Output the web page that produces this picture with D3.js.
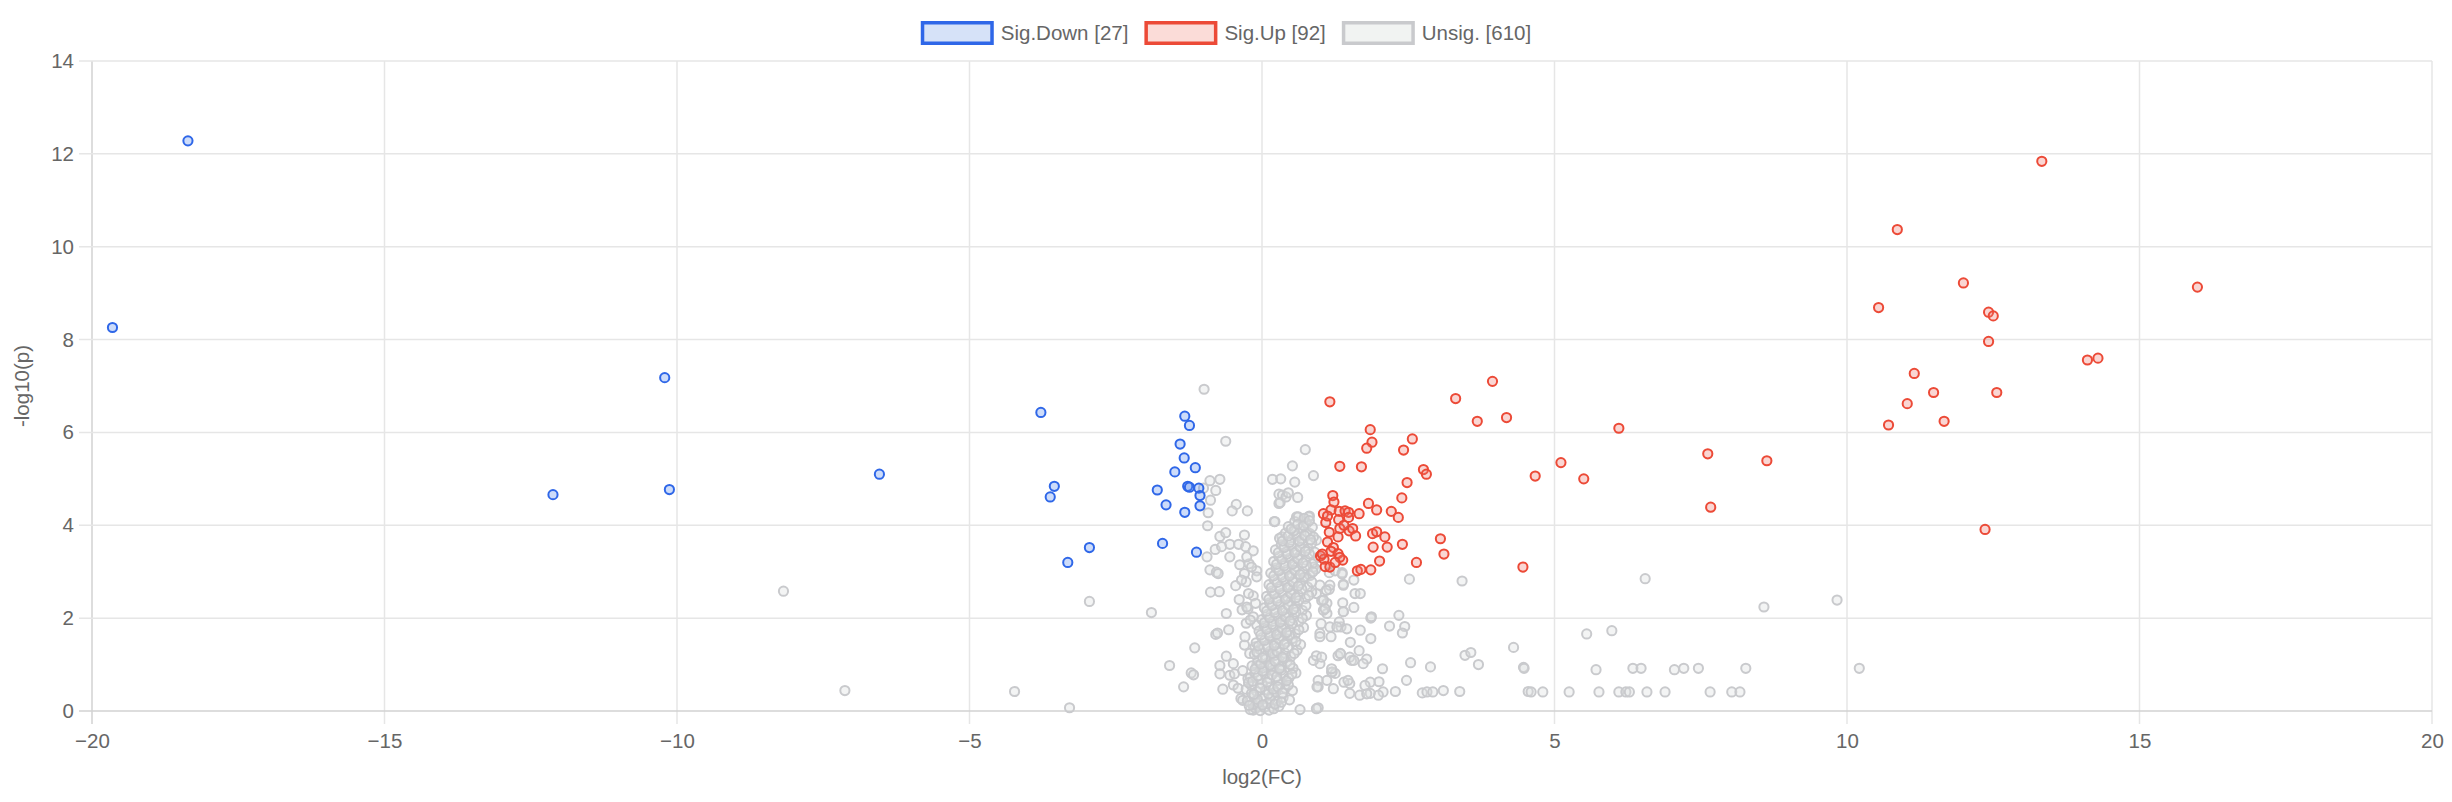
<!DOCTYPE html>
<html>
<head>
<meta charset="utf-8">
<script src="https://cdn.jsdelivr.net/npm/d3@7"></script>
<style>
  body { margin: 0; background: #fff; }
  svg text { font-family: "Liberation Sans", Arial, sans-serif; fill: #666; }
</style>
</head>
<body>
<svg id="chart" width="2452" height="802"></svg>
<script>
// tick values + legend
const xTicks = [-20, -15, -10, -5, 0, 5, 10, 15, 20];
const yTicks = [0, 2, 4, 6, 8, 10, 12, 14];
const legendLabels = ["Sig.Down [27]", "Sig.Up [92]", "Unsig. [610]"];

// [log2FC, -log10p]
const sigDown = [
  [-19.65,8.26],[-18.36,12.28],[-10.21,7.18],[-12.12,4.66],[-10.13,4.77],[-6.54,5.10],
  [-3.78,6.43],[-1.32,6.35],[-1.24,6.15],[-1.40,5.75],[-1.33,5.45],[-1.49,5.15],[-1.14,5.24],
  [-3.55,4.84],[-3.62,4.61],[-1.79,4.76],[-1.27,4.84],[-1.24,4.82],[-1.08,4.80],[-1.06,4.64],
  [-1.06,4.42],[-1.64,4.44],[-1.32,4.28],[-2.95,3.52],[-1.70,3.61],[-1.12,3.42],[-3.32,3.20]
];

const sigUp = [
  [1.16,6.66],[3.94,7.10],[3.31,6.73],[3.68,6.24],[4.18,6.32],[1.85,6.06],[1.88,5.79],[1.79,5.66],
  [2.57,5.86],[2.42,5.62],[1.33,5.27],[1.70,5.26],[2.76,5.20],[2.81,5.10],[2.48,4.92],[2.39,4.59],
  [1.21,4.64],[1.23,4.50],[1.82,4.47],[1.96,4.33],[2.21,4.30],[2.33,4.17],[1.66,4.25],[1.05,4.25],
  [1.18,4.33],[1.32,4.30],[1.42,4.31],[1.48,4.28],[1.48,4.17],[1.31,4.12],[1.09,4.06],[1.12,4.20],
  [1.33,3.93],[1.49,3.88],[1.55,3.93],[1.60,3.77],[1.30,3.75],[1.89,3.82],[1.96,3.86],[2.10,3.75],
  [2.14,3.53],[1.90,3.53],[2.40,3.59],[1.12,3.64],[1.22,3.52],[1.18,3.44],[1.30,3.39],[1.38,3.25],
  [1.33,3.31],[1.00,3.34],[1.06,3.27],[1.08,3.11],[1.16,3.10],[2.01,3.23],[1.63,3.02],[1.69,3.05],
  [1.86,3.04],[2.64,3.20],[3.05,3.71],[3.11,3.38],[4.46,3.10],[1.03,3.38],[1.25,3.20],[1.40,4.00],
  [1.15,3.85],
  [4.67,5.06],[5.11,5.35],[5.50,5.00],[6.10,6.09],[7.62,5.54],[7.67,4.39],[8.63,5.39],
  [10.71,6.16],[11.03,6.62],[11.15,7.27],
  [13.33,11.84],[11.99,9.22],[15.99,9.13],[12.42,8.59],[12.50,8.51],[12.42,7.96],[14.11,7.56],
  [14.29,7.60],[11.48,6.86],[12.56,6.86],[11.66,6.24],[12.36,3.91],[10.54,8.69],[10.86,10.37]
];

const unsigSpread = [
  [-8.18,2.58],[-7.13,0.44],[-4.23,0.42],[-3.29,0.07],[-2.95,2.36],[-1.89,2.12],[-1.15,1.36],
  [-1.58,0.98],[-1.21,0.82],[-1.17,0.78],[-1.34,0.52],
  [-0.99,6.93],[-0.62,5.81],[0.18,4.99],[-0.89,4.96],[-0.72,4.99],[-0.79,4.75],[-1.0,4.8],
  [-0.88,4.54],[-0.44,4.45],[-0.51,4.31],[-0.25,4.31],[-0.92,4.27],[-0.93,3.99],[0.21,4.08],
  [0.29,4.47],[0.29,4.67],[-0.72,3.76],[-0.62,3.84],[-0.30,3.79],[-0.80,3.48],[-0.69,3.54],
  [-0.55,3.59],[-0.40,3.59],[-0.28,3.54],[-0.15,3.45],[-0.94,3.32],[-0.55,3.32],[-0.38,3.15],
  [-0.22,3.17],[-0.09,3.02],[-0.89,3.04],[-0.78,2.99],[-0.75,2.96],[-0.30,2.96],[-0.27,2.78],
  [-0.45,2.70],[-0.88,2.56],[-0.73,2.57],[-0.39,2.40],[-0.15,2.48],[-0.11,2.32],[-0.34,2.18],
  [-0.24,2.20],[-0.15,2.03],[-0.61,2.10],[-0.27,1.89],[-0.09,1.85],[-0.57,1.75],[-0.79,1.65],
  [-0.76,1.68],[-0.30,1.42],[-0.21,1.24],[-0.61,1.18],[-0.49,1.02],[-0.72,0.98],[-0.72,0.80],
  [-0.55,0.77],[-0.47,0.80],[-0.33,0.87],[-0.24,0.70],[-0.09,0.98],[-0.49,0.56],[-0.41,0.49],
  [-0.67,0.47],[-0.36,0.27],[-0.33,0.23],[-0.15,0.02],[-0.07,0.09],
  [-0.26,3.32],[-0.18,3.10],[-0.09,2.89],[-0.35,2.82],[-0.23,2.53],[-0.26,2.24],[-0.20,1.96],
  [-0.29,1.60],[-0.12,1.38],
  [0.74,5.63],[0.52,5.28],[0.32,5.00],[0.56,4.93],[0.88,5.07],[0.35,4.65],[0.31,4.49],[0.41,4.61],
  [0.61,4.60],[0.81,4.20],[0.59,4.18],[0.22,4.08],[0.71,4.00],[0.54,3.89],[0.34,3.75],[0.82,3.82],
  [0.93,3.68],[0.80,4.18],[0.45,4.70],
  [2.52,2.84],[3.42,2.80],[1.37,2.98],[1.39,2.73],[1.15,2.62],[1.57,2.82],[1.59,2.53],[1.57,2.23],
  [1.39,2.14],[1.86,2.00],[2.34,2.06],[2.44,1.82],[2.18,1.83],[2.40,1.68],[1.86,1.56],[1.35,1.81],
  [1.45,1.77],[1.51,1.48],[1.30,1.19],[1.66,1.30],[1.79,1.12],[1.73,1.02],[1.53,1.09],[2.06,0.91],
  [2.54,1.04],[2.88,0.95],[3.47,1.20],[3.57,1.26],[3.70,1.00],[4.30,1.37],[4.47,0.94],[2.47,0.66],
  [2.28,0.42],[2.74,0.39],[2.82,0.41],[2.92,0.41],[3.10,0.44],[3.38,0.42],[4.55,0.42],[2.00,0.63],
  [1.85,0.62],[1.76,0.55],[1.50,0.59],[1.22,0.48],[1.19,0.84],[1.25,0.81],[0.96,0.66],[0.99,1.02],
  [0.88,1.09],[0.93,1.19],[2.07,0.41],[1.99,0.34],[1.85,0.38],[1.67,0.34],[1.50,0.38],[0.96,0.07],
  [0.65,0.03],[1.11,2.10],[0.99,1.67],[1.01,1.88],[1.16,1.81],[1.05,2.17],[1.11,2.32],[0.93,2.53],
  [1.02,2.38],[1.15,2.98],[1.25,3.02],[0.99,2.71],[0.76,2.89],[0.88,3.10],[0.96,3.31],
  [1.37,2.95],[1.16,2.71],[1.38,2.33],[1.08,2.20],[1.32,1.92],[1.18,1.60],[1.02,1.16],[1.34,1.23],
  [1.50,1.16],[1.20,0.84],[1.40,0.62],[0.96,0.52],[0.93,0.05],
  [1.10,2.60],[1.39,2.71],[1.68,2.53],[1.39,2.14],[1.68,1.74],[1.28,1.81],[1.05,2.39],[0.99,1.60],
  [1.34,1.24],[1.57,1.09],[1.19,0.91],[1.47,0.66],[1.11,0.66],[1.79,0.37],[0.94,0.52],[1.87,2.03],
  [6.55,2.85],[8.58,2.24],[9.83,2.39],[5.55,1.66],[5.98,1.73],[4.48,0.92],[5.71,0.89],[6.34,0.92],
  [6.48,0.92],[7.05,0.89],[7.21,0.92],[7.46,0.92],[8.27,0.92],[10.21,0.92],[4.60,0.41],[4.80,0.41],
  [5.25,0.41],[5.76,0.41],[6.10,0.41],[6.22,0.41],[6.28,0.41],[6.58,0.41],[6.89,0.41],[7.66,0.41],
  [8.03,0.41],[8.17,0.41]
];

// dense core near zero, read band by band
const unsigCore = [
  [-0.20,0.03],[-0.11,0.06],[-0.03,0.01],[0.04,0.08],[0.12,0.02],[0.20,0.05],[0.29,0.10],[-0.16,0.14],
  [-0.25,0.22],[-0.14,0.31],[-0.06,0.18],[0.03,0.27],[0.09,0.16],[0.17,0.34],[0.26,0.21],[0.36,0.29],[0.47,0.24],
  [-0.27,0.47],[-0.18,0.55],[-0.09,0.42],[0.00,0.58],[0.07,0.45],[0.15,0.52],[0.23,0.41],[0.31,0.57],[0.40,0.49],[0.52,0.44],
  [-0.20,0.72],[-0.12,0.83],[-0.03,0.68],[0.05,0.79],[0.13,0.70],[0.21,0.85],[0.28,0.66],[0.37,0.77],[0.46,0.71],[0.58,0.82],
  [-0.17,0.97],[-0.07,1.08],[0.02,0.93],[0.10,1.04],[0.18,0.95],[0.26,1.10],[0.34,0.98],[0.43,1.06],[0.53,0.92],
  [-0.13,1.22],[-0.04,1.33],[0.06,1.18],[0.14,1.29],[0.22,1.20],[0.30,1.35],[0.39,1.25],[0.49,1.17],[0.60,1.31],
  [-0.10,1.47],[0.00,1.58],[0.09,1.42],[0.17,1.53],[0.25,1.45],[0.34,1.60],[0.42,1.49],[0.52,1.56],[0.66,1.43],
  [-0.05,1.72],[0.04,1.83],[0.13,1.68],[0.21,1.79],[0.30,1.70],[0.38,1.85],[0.47,1.74],[0.57,1.66],[0.71,1.80],
  [0.00,1.97],[0.09,2.08],[0.18,1.93],[0.27,2.04],[0.35,1.95],[0.44,2.10],[0.53,2.00],[0.63,1.92],[0.76,2.06],
  [0.04,2.22],[0.13,2.33],[0.22,2.18],[0.31,2.29],[0.40,2.20],[0.49,2.35],[0.58,2.25],[0.69,2.17],
  [0.08,2.47],[0.17,2.58],[0.26,2.43],[0.35,2.54],[0.44,2.45],[0.53,2.60],[0.62,2.50],[0.74,2.42],[0.85,2.56],
  [0.12,2.72],[0.21,2.83],[0.30,2.68],[0.39,2.79],[0.48,2.70],[0.57,2.85],[0.66,2.75],[0.78,2.67],
  [0.15,2.97],[0.24,3.08],[0.33,2.93],[0.42,3.04],[0.51,2.95],[0.60,3.10],[0.70,3.00],[0.82,2.92],[0.92,3.06],
  [0.20,3.22],[0.29,3.33],[0.38,3.18],[0.47,3.29],[0.56,3.20],[0.65,3.35],[0.75,3.25],[0.86,3.17],
  [0.23,3.47],[0.33,3.58],[0.42,3.43],[0.51,3.54],[0.60,3.45],[0.69,3.60],[0.79,3.50],[0.90,3.42],
  [0.30,3.72],[0.40,3.83],[0.50,3.68],[0.59,3.79],[0.68,3.70],[0.77,3.85],[0.88,3.75],
  [0.45,3.97],[0.56,4.08],[0.66,3.93],[0.76,4.04],[0.86,3.96],[0.62,4.18],[0.72,4.15]
];

// second pass over the core, points lying between the bands above
const unsigCoreFill = [
  [-0.22,0.12],[-0.08,0.25],[0.01,0.13],[0.14,0.26],[0.22,0.15],[0.33,0.19],[-0.18,0.38],
  [-0.14,0.36],[-0.03,0.50],[0.11,0.37],[0.19,0.47],[0.27,0.52],[0.35,0.39],[0.45,0.56],[-0.23,0.61],
  [-0.16,0.64],[-0.07,0.76],[0.01,0.86],[0.09,0.62],[0.17,0.78],[0.25,0.74],[0.33,0.88],[0.42,0.65],[0.51,0.79],
  [-0.12,0.90],[-0.02,1.01],[0.06,1.12],[0.14,0.99],[0.22,1.07],[0.30,0.91],[0.38,1.13],[0.48,1.00],
  [-0.09,1.27],[0.01,1.15],[0.10,1.38],[0.18,1.24],[0.26,1.28],[0.35,1.16],[0.44,1.37],[0.55,1.24],
  [-0.06,1.40],[0.04,1.52],[0.13,1.62],[0.21,1.41],[0.29,1.55],[0.38,1.44],[0.47,1.63],[0.58,1.50],
  [-0.02,1.64],[0.08,1.76],[0.17,1.87],[0.25,1.65],[0.34,1.78],[0.42,1.69],[0.52,1.88],[0.63,1.75],
  [0.04,1.90],[0.13,2.01],[0.22,2.12],[0.31,1.91],[0.40,2.03],[0.48,1.94],[0.58,2.13],[0.69,2.00],
  [0.08,2.15],[0.17,2.27],[0.26,2.37],[0.35,2.16],[0.45,2.28],[0.54,2.19],[0.63,2.38],[0.75,2.27],
  [0.12,2.41],[0.21,2.52],[0.30,2.63],[0.40,2.41],[0.49,2.53],[0.58,2.44],[0.68,2.63],[0.80,2.49],
  [0.16,2.66],[0.26,2.77],[0.35,2.88],[0.44,2.66],[0.53,2.78],[0.62,2.69],[0.72,2.88],[0.85,2.78],
  [0.20,2.91],[0.29,3.02],[0.38,3.13],[0.47,2.91],[0.56,3.03],[0.65,2.94],[0.76,3.13],[0.87,3.00],
  [0.25,3.16],[0.34,3.27],[0.43,3.38],[0.52,3.16],[0.61,3.28],[0.70,3.19],[0.81,3.38],
  [0.28,3.41],[0.38,3.52],[0.47,3.63],[0.56,3.41],[0.65,3.53],[0.74,3.44],[0.85,3.62],
  [0.35,3.66],[0.45,3.77],[0.55,3.88],[0.64,3.66],[0.73,3.78],[0.83,3.69],
  [0.50,3.92],[0.61,4.02],[0.71,3.99],[0.81,4.10]
];

const W = 2452, H = 802;
const plot = { left: 92, right: 2432, top: 61, bottom: 711 };
const fontSize = "20.5px";

const svg = d3.select("#chart");

const x = d3.scaleLinear().domain([-20, 20]).range([plot.left, plot.right]);
const y = d3.scaleLinear().domain([0, 14]).range([plot.bottom, plot.top]);

// === grid ===
const grid = svg.append("g");
grid.selectAll(".vgrid")
  .data(xTicks)
  .enter().append("line")
  .attr("x1", d => x(d)).attr("x2", d => x(d))
  .attr("y1", plot.top).attr("y2", plot.bottom + 13)
  .attr("stroke", d => d === -20 ? "#d2d2d2" : "#e6e6e6")
  .attr("stroke-width", 1.5);
grid.selectAll(".hgrid")
  .data(yTicks)
  .enter().append("line")
  .attr("x1", plot.left - 13).attr("x2", plot.right)
  .attr("y1", d => y(d)).attr("y2", d => y(d))
  .attr("stroke", d => d === 0 ? "#d2d2d2" : "#e6e6e6")
  .attr("stroke-width", 1.5);

// === axes (labels only, grid drawn above) ===
const yAxis = svg.append("g")
  .attr("transform", `translate(${plot.left},0)`)
  .call(d3.axisLeft(y).tickValues(yTicks).tickSize(13).tickPadding(5));
const xAxis = svg.append("g")
  .attr("transform", `translate(0,${plot.bottom})`)
  .call(d3.axisBottom(x).tickValues(xTicks).tickSize(13).tickPadding(9));
[yAxis, xAxis].forEach(a => {
  a.select(".domain").remove();
  a.selectAll(".tick line").remove();
  a.selectAll("text").style("font-size", fontSize).attr("fill", "#666");
});

// axis titles
svg.append("text")
  .attr("x", (plot.left + plot.right) / 2)
  .attr("y", 784)
  .attr("text-anchor", "middle")
  .style("font-size", fontSize)
  .text("log2(FC)");
svg.append("text")
  .attr("transform", `translate(29,${(plot.top + plot.bottom) / 2}) rotate(-90)`)
  .attr("text-anchor", "middle")
  .style("font-size", fontSize)
  .text("-log10(p)");

// === points (gray first so coloured ones sit on top) ===
const series = [
  { data: unsigSpread.concat(unsigCore, unsigCoreFill), stroke: "#c9cacd", fill: "rgba(220,224,224,0.35)" },
  { data: sigUp, stroke: "#ec4a37", fill: "rgba(240,120,110,0.3)" },
  { data: sigDown, stroke: "#2f67e8", fill: "rgba(90,140,240,0.3)" }
];

series.forEach(s => {
  svg.append("g").selectAll("circle")
    .data(s.data)
    .enter().append("circle")
    .attr("cx", d => x(d[0]))
    .attr("cy", d => y(d[1]))
    .attr("r", 4.6)
    .attr("fill", s.fill)
    .attr("stroke", s.stroke)
    .attr("stroke-width", 2);
});

// === legend ===
const legendItems = [
  { label: legendLabels[0], stroke: "#2f67e8", fill: "#d6e2f8" },
  { label: legendLabels[1], stroke: "#ec4a37", fill: "#fbdcd8" },
  { label: legendLabels[2], stroke: "#c9cacd", fill: "#f1f3f2" }
];
const boxW = 73, boxH = 24, boxGap = 7, itemGap = 16;
const legend = svg.append("g");
let cursor = 0;
legendItems.forEach(item => {
  const g = legend.append("g").attr("transform", `translate(${cursor},0)`);
  g.append("rect")
    .attr("x", 1.75).attr("y", 1.75)
    .attr("width", boxW - 3.5).attr("height", boxH - 3.5)
    .attr("fill", item.fill)
    .attr("stroke", item.stroke)
    .attr("stroke-width", 3.5);
  const t = g.append("text")
    .attr("x", boxW + boxGap)
    .attr("y", boxH / 2)
    .attr("dy", "0.36em")
    .style("font-size", fontSize)
    .text(item.label);
  cursor += boxW + boxGap + t.node().getComputedTextLength() + itemGap;
});
const legendWidth = cursor - itemGap;
legend.attr("transform", `translate(${W / 2 - legendWidth / 2},21)`);
</script>
</body>
</html>
